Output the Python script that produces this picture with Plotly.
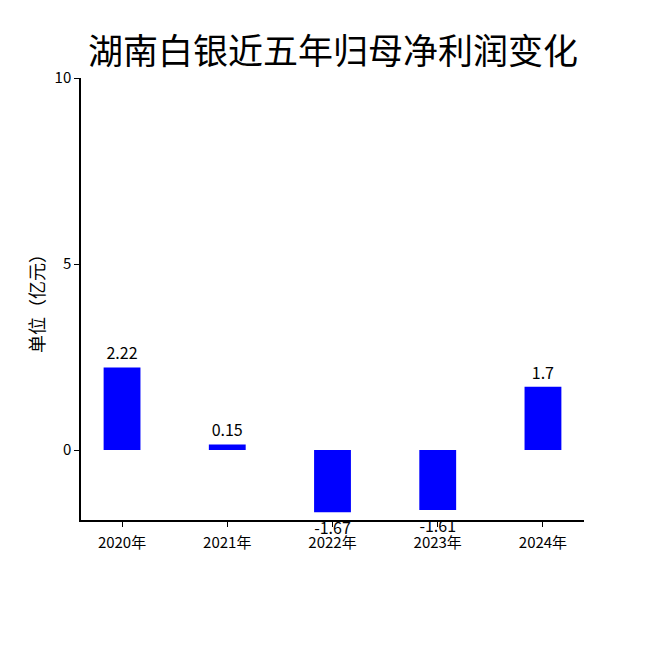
import plotly.graph_objects as go

# 湖南白银 近五年归母净利润（亿元）
years = ["2020年", "2021年", "2022年", "2023年", "2024年"]
profit = [2.22, 0.15, -1.67, -1.61, 1.7]
y_ticks = [0, 5, 10]

font_cn = "Noto Sans CJK SC"

fig = go.Figure(
    go.Bar(
        x=years,
        y=profit,
        width=0.35,
        marker=dict(color="#0000ff", line=dict(width=0)),
        text=[str(v) for v in profit],
        textposition="outside",
        constraintext="none",
        cliponaxis=False,
        textfont=dict(size=16, color="black", family=font_cn),
        hoverinfo="x+y",
    )
)

fig.update_layout(
    width=650,
    height=650,
    margin=dict(l=73, r=74, t=70, b=138),
    paper_bgcolor="white",
    plot_bgcolor="white",
    showlegend=False,
    font=dict(family=font_cn, color="black"),
    title=dict(
        text="湖南白银近五年归母净利润变化",
        x=0.5,
        xanchor="center",
        y=0.932,
        yref="container",
        yanchor="middle",
        font=dict(size=35, color="black", family=font_cn),
    ),
)

fig.update_xaxes(
    range=[-0.39, 4.39],
    showline=True,
    linecolor="black",
    linewidth=1.5,
    ticks="outside",
    ticklen=5,
    tickcolor="black",
    tickfont=dict(size=15),
    ticklabelstandoff=3,
    showgrid=False,
)

fig.update_yaxes(
    range=[-1.88, 10],
    tickvals=y_ticks,
    showline=True,
    linecolor="black",
    linewidth=1.5,
    ticks="outside",
    ticklen=5,
    tickcolor="black",
    tickfont=dict(size=15),
    showgrid=False,
    zeroline=False,
    title=dict(text="单位（亿元）", font=dict(size=18), standoff=5),
)

fig.write_html("out.html")
